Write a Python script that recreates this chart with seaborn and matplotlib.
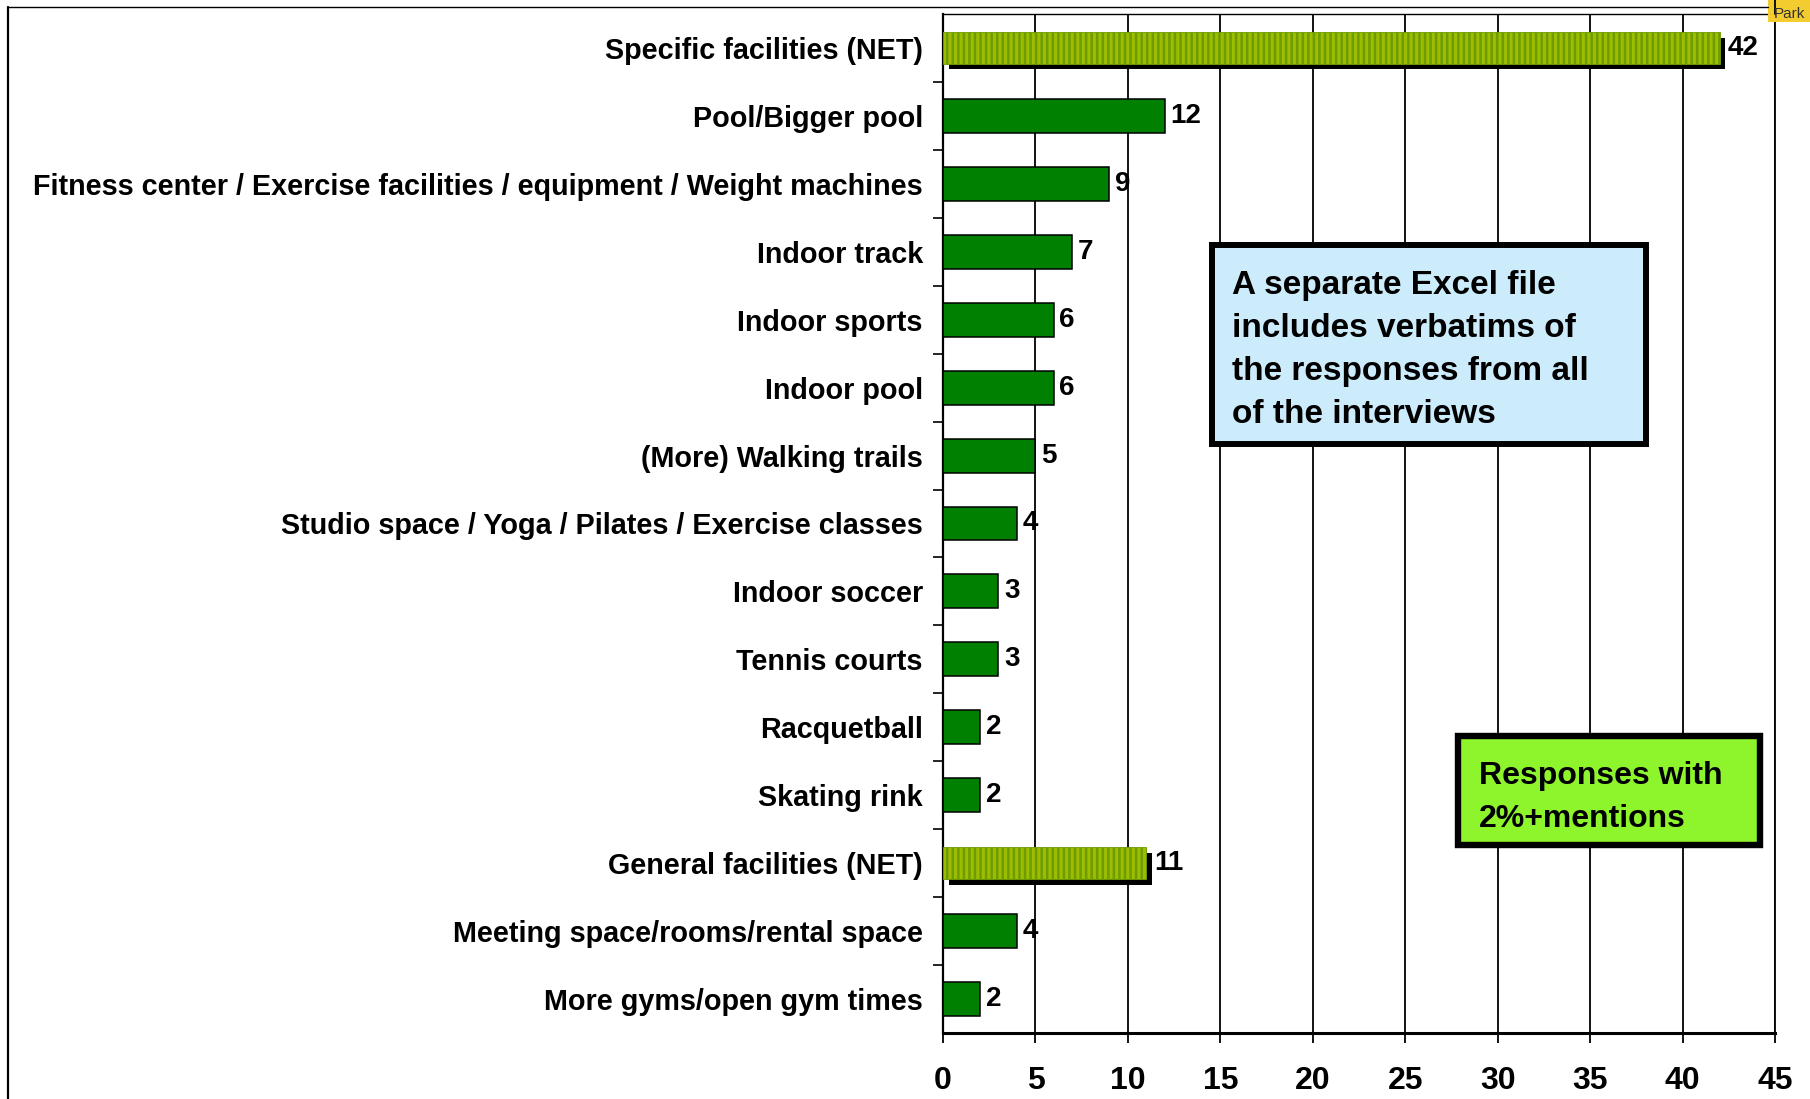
import matplotlib
matplotlib.use("Agg")
import matplotlib.pyplot as plt
import matplotlib.transforms as mtransforms
from matplotlib.patches import Rectangle
from matplotlib.lines import Line2D
import seaborn as sns
import pandas as pd

categories = [
    "Specific facilities (NET)",
    "Pool/Bigger pool",
    "Fitness center / Exercise facilities / equipment / Weight machines",
    "Indoor track",
    "Indoor sports",
    "Indoor pool",
    "(More) Walking trails",
    "Studio space / Yoga / Pilates / Exercise classes",
    "Indoor soccer",
    "Tennis courts",
    "Racquetball",
    "Skating rink",
    "General facilities (NET)",
    "Meeting space/rooms/rental space",
    "More gyms/open gym times",
]
values = [42, 12, 9, 7, 6, 6, 5, 4, 3, 3, 2, 2, 11, 4, 2]
is_net = [True, False, False, False, False, False, False, False, False, False,
          False, False, True, False, False]
x_ticks = [0, 5, 10, 15, 20, 25, 30, 35, 40, 45]
note_text = "A separate Excel file\nincludes verbatims of\nthe responses from all\nof the interviews"
badge_text = "Responses with\n2%+mentions"

sns.set_style("white")
plt.rcParams["font.family"] = ["Liberation Sans", "DejaVu Sans"]
plt.rcParams["hatch.linewidth"] = 1.8
plt.rcParams["text.color"] = "black"
plt.rcParams["xtick.color"] = "black"
plt.rcParams["ytick.color"] = "black"
plt.rcParams["axes.labelcolor"] = "black"

W, H = 1810, 1099
fig = plt.figure(figsize=(W / 100, H / 100), dpi=100)
fx = lambda px: px / W
fy = lambda py: 1 - py / H

ax = fig.add_axes([fx(943), fy(1033), fx(1775) - fx(943), fy(14) - fy(1033)])

df = pd.DataFrame({"cat": categories, "val": values})
sns.barplot(data=df, x="val", y="cat", orient="h", color="#008000",
            width=0.5, edgecolor="black", linewidth=1.1, saturation=1, ax=ax)

ax.set_xlim(0, 45)
ax.set_ylim(len(categories) - 0.5, -0.5)

shadow_tr = ax.transData + mtransforms.ScaledTranslation(4 / 72, -4 / 72, fig.dpi_scale_trans)
patches = list(ax.patches)
for i, p in enumerate(patches):
    if is_net[i]:
        cy = p.get_y() + p.get_height() / 2
        p.set_height(0.47)
        p.set_y(cy - 0.235)
        p.set_facecolor("#9cbd00")
        p.set_edgecolor("#6e9c00")
        p.set_linewidth(0.6)
        p.set_hatch("|||")
        p.set_zorder(3)
        sh = Rectangle((p.get_x(), p.get_y()), p.get_width(), p.get_height(),
                       transform=shadow_tr, facecolor="black", edgecolor="none", zorder=2.9)
        ax.add_patch(sh)
    else:
        p.set_zorder(3)

cont = ax.containers[0]
ax.bar_label(cont, labels=[("" if n else str(v)) for v, n in zip(values, is_net)],
             padding=4, fontsize=20, fontweight="bold", color="black")
ax.bar_label(cont, labels=[(str(v) if n else "") for v, n in zip(values, is_net)],
             padding=6, fontsize=20, fontweight="bold", color="black")

ax.set_xticks(x_ticks)
ax.set_xticklabels([str(t) for t in x_ticks],
                   family=["Liberation Sans Narrow", "Liberation Sans", "DejaVu Sans"],
                   fontsize=23, fontweight="bold")
ax.set_yticks(range(len(categories)))
ax.set_yticklabels(categories, fontsize=20.7, fontweight="bold")
ax.set_yticks([i + 0.5 for i in range(len(categories) - 1)], minor=True)
ax.tick_params(axis="y", which="major", length=0, pad=14.5)
ax.tick_params(axis="y", which="minor", left=True, length=7, width=1.2, color="black")
ax.tick_params(axis="x", which="major", bottom=True, length=7.5, width=1.3,
               color="black", pad=16)
ax.set_xlabel("")
ax.set_ylabel("")

ax.xaxis.grid(True, color="black", linewidth=1.3)
ax.yaxis.grid(False)
ax.set_axisbelow(True)
for side, lw in [("left", 1.6), ("bottom", 2.2), ("top", 1.0), ("right", 1.3)]:
    ax.spines[side].set_visible(True)
    ax.spines[side].set_color("black")
    ax.spines[side].set_linewidth(lw)

# slide frame lines
fig.add_artist(Line2D([fx(8), fx(8)], [0, fy(7)], color="black", lw=1.6))
fig.add_artist(Line2D([fx(8), fx(1768)], [fy(7), fy(7)], color="black", lw=1.0))
fig.add_artist(Line2D([fx(1775), fx(1775)], [fy(14), 1], color="black", lw=1.3))

# logo fragment
fig.add_artist(Rectangle((fx(1768), fy(22)), fx(1810) - fx(1768), 22 / H,
                         transform=fig.transFigure, facecolor="#f3cd2f", edgecolor="none"))
fig.text(fx(1789), fy(14), "Park", ha="center", va="center", fontsize=11, color="#333333")

# note boxes (multi-line text: baseline alignment refers to the last line)
fig.add_artist(Rectangle((fx(1212), fy(444)), fx(1646) - fx(1212), (444 - 245) / H,
                         transform=fig.transFigure, facecolor="#CCECFC",
                         edgecolor="black", linewidth=4.3, zorder=5))
fig.text(fx(1232), fy(423), note_text, ha="left", va="baseline", fontsize=24,
         fontweight="bold", linespacing=1.5, zorder=6, color="black")

fig.add_artist(Rectangle((fx(1458), fy(845)), fx(1760) - fx(1458), (845 - 736) / H,
                         transform=fig.transFigure, facecolor="#8ef52c",
                         edgecolor="black", linewidth=4.6, zorder=5))
fig.text(fx(1479), fy(827), badge_text, ha="left", va="baseline", fontsize=23,
         fontweight="bold", linespacing=1.55, zorder=6, color="black")

fig.savefig("out.png", dpi=100)
